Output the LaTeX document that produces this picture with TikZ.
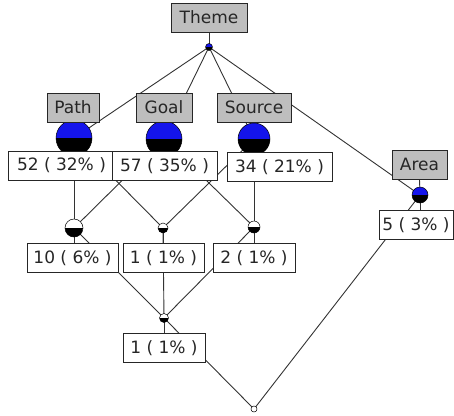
\documentclass[tikz,border=0pt]{standalone}
\usepackage{fontspec}
\setmainfont{DejaVu Sans}
\usetikzlibrary{backgrounds}
\definecolor{ballblue}{RGB}{20,20,235}
\definecolor{attrgray}{RGB}{190,190,190}
\begin{document}
\begin{tikzpicture}[x=1pt,y=-1pt,
  edge/.style={draw=black!80, line width=0.9pt},
  ball/.style n args={3}{circle, draw=black, line width=0.5pt, inner sep=0pt,
    minimum size=#3pt,
    path picture={
      \fill[#1] (path picture bounding box.west) rectangle (path picture bounding box.north east);
      \fill[#2] (path picture bounding box.south west) rectangle (path picture bounding box.east);
    }},
  lbl/.style={draw=black!85, line width=0.9pt, inner sep=0pt, minimum height=29pt,
    text=black!85, font=\fontsize{17}{20}\selectfont},
  attr/.style={lbl, fill=attrgray},
  obj/.style={lbl, fill=white}
]
\useasboundingbox (0,0) rectangle (454,415);

% concepts of the lattice
\node[ball={ballblue}{black}{7}]  (top)    at (209,47)  {};
\node[ball={ballblue}{black}{36}] (path)   at (74,138)  {};
\node[ball={ballblue}{black}{36}] (goal)   at (164,139) {};
\node[ball={ballblue}{black}{32}] (source) at (254,139) {};
\node[ball={ballblue}{black}{16}] (area)   at (420,195) {};
\node[ball={white}{black}{18}]    (pg)     at (74,228)  {};
\node[ball={white}{black}{10}]    (ps)     at (163,228) {};
\node[ball={white}{black}{12}]    (gs)     at (254,227) {};
\node[ball={white}{black}{9}]     (m)      at (164,318) {};
\node[ball={white}{white}{6}]     (bot)    at (254,409) {};

% attribute labels
\node[attr, minimum width=76pt] (ltheme)  at (209,17.5)  {Theme};
\node[attr, minimum width=52pt] (lpath)   at (73,107.5)  {Path};
\node[attr, minimum width=56pt] (lgoal)   at (164,107.5) {Goal};
\node[attr, minimum width=74pt] (lsource) at (254,107.5) {Source};
\node[attr, minimum width=55pt] (larea)   at (419.5,164.5) {Area};

% object count labels
\node[obj, minimum width=107pt] (cpath)   at (61.5,165.5) {52 ( 32\% )};
\node[obj, minimum width=105pt] (cgoal)   at (164.5,166)  {57 ( 35\% )};
\node[obj, minimum width=105pt] (csource) at (279.5,167)  {34 ( 21\% )};
\node[obj, minimum width=74pt]  (carea)   at (416,225)    {5 ( 3\% )};
\node[obj, minimum width=91pt]  (cpg)     at (72.5,258)   {10 ( 6\% )};
\node[obj, minimum width=81pt]  (cps)     at (163.5,258)  {1 ( 1\% )};
\node[obj, minimum width=82pt]  (cgs)     at (254,258)    {2 ( 1\% )};
\node[obj, minimum width=82pt]  (cm)      at (164,348)    {1 ( 1\% )};

\begin{scope}[on background layer]
  % lattice order
  \draw[edge] (top.center) -- (path.center);
  \draw[edge] (top.center) -- (goal.center);
  \draw[edge] (top.center) -- (source.center);
  \draw[edge] (top.center) -- (area.center);
  \draw[edge] (path.center) -- (pg.center);
  \draw[edge] (path.center) -- (ps.center);
  \draw[edge] (goal.center) -- (pg.center);
  \draw[edge] (goal.center) -- (gs.center);
  \draw[edge] (source.center) -- (ps.center);
  \draw[edge] (source.center) -- (gs.center);
  \draw[edge] (pg.center) -- (m.center);
  \draw[edge] (ps.center) -- (m.center);
  \draw[edge] (gs.center) -- (m.center);
  \draw[edge] (m.center) -- (bot.center);
  \draw[edge] (area.center) -- (bot.center);
  % label leaders
  \draw[edge] (top.center) -- (ltheme.south);
  \draw[edge] (area.center) -- (larea.south);
  \draw[edge] (area.center) -- (carea.north -| area.center);
  \draw[edge] (pg.center) -- (cpg.north -| pg.center);
  \draw[edge] (ps.center) -- (cps.north -| ps.center);
  \draw[edge] (gs.center) -- (cgs.north -| gs.center);
  \draw[edge] (m.center) -- (cm.north -| m.center);
\end{scope}
\end{tikzpicture}
\end{document}
